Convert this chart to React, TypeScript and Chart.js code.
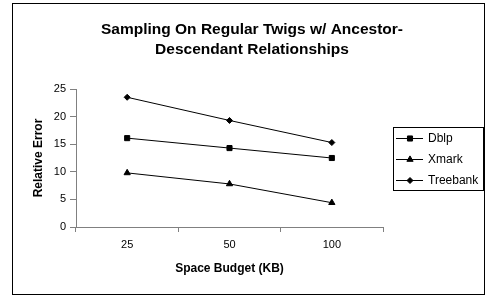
import React, { useEffect, useRef } from "react";
import { Chart, registerables } from "chart.js";
import { drawPoint } from "chart.js/helpers";

Chart.register(...registerables);

const categories = ["25", "50", "100"];
const seriesNames = ["Dblp", "Xmark", "Treebank"];
const dblp = [16.1, 14.3, 12.5];
const xmark = [9.8, 7.8, 4.4];
const treebank = [23.5, 19.3, 15.3];
const titleLines = ["Sampling On Regular Twigs w/ Ancestor-", "Descendant Relationships"];
const yTitle = "Relative Error";
const xTitle = "Space Budget (KB)";

const FONT = 'Arial, "Liberation Sans", sans-serif';

const legendPlugin = {
  id: "boxLegend",
  afterDraw(chart: any) {
    const ctx = chart.ctx;
    ctx.save();
    ctx.strokeStyle = "#000";
    ctx.lineWidth = 1;
    ctx.strokeRect(393.5, 127.5, 90, 63);
    chart.data.datasets.forEach((ds: any, i: number) => {
      const y = 138 + i * 21;
      ctx.strokeStyle = "#000";
      ctx.beginPath();
      ctx.moveTo(396, y + 0.5);
      ctx.lineTo(423, y + 0.5);
      ctx.stroke();
      ctx.fillStyle = "#000";
      drawPoint(ctx, { pointStyle: ds.pointStyle, radius: ds.pointRadius, borderWidth: 1, rotation: 0 } as any, 410, y + 0.5);
      ctx.fillStyle = "#000";
      ctx.font = "12px " + FONT;
      ctx.textBaseline = "middle";
      ctx.textAlign = "left";
      ctx.fillText(ds.label, 428, y + 1);
    });
    ctx.strokeStyle = "#000";
    ctx.strokeRect(12.5, 3.5, 472, 291);
    ctx.restore();
  },
};

export default function App() {
  const ref = useRef<HTMLCanvasElement | null>(null);
  useEffect(() => {
    document.body.style.margin = "0";
    const mk = (label: string, data: number[], style: string, r: number) => ({
      label,
      data,
      borderColor: "#000",
      backgroundColor: "#000",
      borderWidth: 1,
      pointStyle: style,
      pointRadius: r,
      pointBorderWidth: 1,
      pointBackgroundColor: "#000",
      pointBorderColor: "#000",
      tension: 0,
    });
    const chart = new Chart(ref.current as HTMLCanvasElement, {
      type: "line",
      data: {
        labels: categories,
        datasets: [
          mk(seriesNames[0], dblp, "rect", 3.6),
          mk(seriesNames[1], xmark, "triangle", 3.6),
          mk(seriesNames[2], treebank, "rectRot", 3),
        ],
      },
      options: {
        responsive: false,
        animation: false,
        layout: { padding: { left: 18, right: 0, top: 0, bottom: 0 } },
        plugins: {
          legend: { display: false },
          tooltip: { enabled: false },
          title: {
            display: true,
            text: titleLines,
            color: "#000",
            font: { family: FONT, size: 15.5, weight: "bold", lineHeight: "20px" } as any,
            padding: { top: 20, bottom: 29 },
          },
        },
        scales: {
          x: {
            type: "category",
            offset: true,
            grid: { display: true, drawOnChartArea: false, tickLength: 5, color: "#808080", offset: true },
            border: { color: "#808080" },
            ticks: { color: "#000", font: { family: FONT, size: 11 }, padding: 6, maxRotation: 0 },
            title: {
              display: true,
              text: xTitle,
              color: "#000",
              font: { family: FONT, size: 12, weight: "bold" },
              padding: { top: 0, bottom: 20 },
            },
            afterFit: (s: any) => {
              s.height = 69;
            },
          },
          y: {
            min: 0,
            max: 25,
            ticks: { stepSize: 5, color: "#000", font: { family: FONT, size: 11 }, padding: 4 },
            grid: { display: true, drawOnChartArea: false, tickLength: 6, color: "#808080" },
            border: { color: "#808080" },
            title: {
              display: true,
              text: yTitle,
              color: "#000",
              font: { family: FONT, size: 12, weight: "bold" },
              padding: { top: 13, bottom: 0 },
            },
            afterFit: (s: any) => {
              s.width = 58;
            },
          },
          gap: {
            type: "linear",
            position: "right",
            display: true,
            grid: { display: false },
            border: { display: false },
            ticks: { display: false },
            afterFit: (s: any) => {
              s.width = 103;
            },
          },
        },
      },
      plugins: [legendPlugin],
    } as any);
    return () => chart.destroy();
  }, []);
  return (
    <div style={{ position: "fixed", left: 0, top: 0, width: 486, height: 296, background: "#fff" }}>
      <canvas ref={ref} width={486} height={296} style={{ display: "block" }} />
    </div>
  );
}
